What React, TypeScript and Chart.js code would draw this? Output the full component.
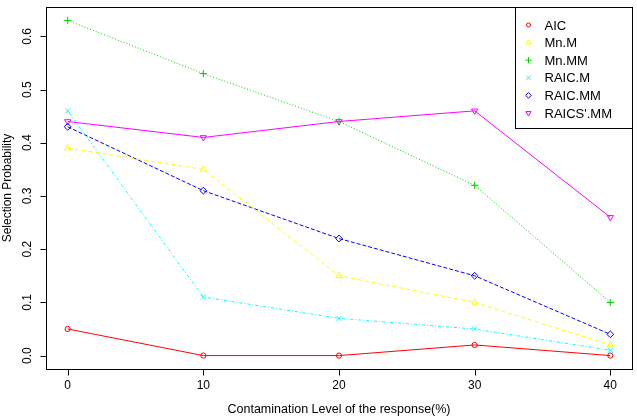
import React, { useEffect, useRef } from "react";
import { Chart, registerables } from "chart.js";
import { drawPoint } from "chart.js/helpers";

Chart.register(...registerables);

const contamination = [0, 10, 20, 30, 40];
const xTicks = [0, 10, 20, 30, 40];
const yTicks = [0, 0.1, 0.2, 0.3, 0.4, 0.5, 0.6];
const yTickLabels = ["0.0", "0.1", "0.2", "0.3", "0.4", "0.5", "0.6"];

const aic = [0.05, 0.0, 0.0, 0.02, 0.0];
const mnM = [0.39, 0.35, 0.15, 0.1, 0.02];
const mnMM = [0.63, 0.53, 0.44, 0.32, 0.1];
const raicM = [0.46, 0.11, 0.07, 0.05, 0.01];
const raicMM = [0.43, 0.31, 0.22, 0.15, 0.04];
const raicsMM = [0.44, 0.41, 0.44, 0.46, 0.26];

const xTitle = "Contamination Level of the response(%)";
const yTitle = "Selection Probability";

const FONT = "Liberation Sans, Arial, Helvetica, sans-serif";

type Series = {
  label: string;
  data: number[];
  color: string;
  dash: number[];
  style: string;
  rotation: number;
  radius: number;
};

const series: Series[] = [
  { label: "AIC", data: aic, color: "#FF0000", dash: [], style: "circle", rotation: 0, radius: 2.6 },
  { label: "Mn.M", data: mnM, color: "#FFFF00", dash: [4, 3], style: "triangle", rotation: 0, radius: 3.6 },
  { label: "Mn.MM", data: mnMM, color: "#00CD00", dash: [1, 2], style: "cross", rotation: 0, radius: 3.6 },
  { label: "RAIC.M", data: raicM, color: "#00FFFF", dash: [1, 2, 3, 2], style: "crossRot", rotation: 0, radius: 3.6 },
  { label: "RAIC.MM", data: raicMM, color: "#0000FF", dash: [4, 2], style: "rectRot", rotation: 0, radius: 3.4 },
  { label: "RAICS'.MM", data: raicsMM, color: "#FF00FF", dash: [], style: "triangle", rotation: 180, radius: 3.6 },
];

const rAxesPlugin = {
  id: "rAxes",
  afterDraw(chart: any) {
    const { ctx, chartArea: a, scales } = chart;
    const xs = scales.x;
    const ys = scales.y;
    const L = Math.round(a.left) + 0.5;
    const T = Math.round(a.top) + 0.5;
    const R = Math.round(a.right) + 0.5;
    const B = Math.round(a.bottom) + 0.5;
    ctx.save();
    ctx.strokeStyle = "#000";
    ctx.lineWidth = 1;
    ctx.setLineDash([]);
    ctx.strokeRect(L, T, R - L, B - T);
    ctx.fillStyle = "#000";
    ctx.font = `12px ${FONT}`;
    // x axis ticks
    ctx.beginPath();
    xTicks.forEach((t) => {
      const px = Math.round(xs.getPixelForValue(t)) + 0.5;
      ctx.moveTo(px, B);
      ctx.lineTo(px, B + 6);
    });
    // y axis ticks
    yTicks.forEach((t) => {
      const py = Math.round(ys.getPixelForValue(t)) + 0.5;
      ctx.moveTo(L, py);
      ctx.lineTo(L - 6, py);
    });
    ctx.stroke();
    ctx.textAlign = "center";
    ctx.textBaseline = "middle";
    xTicks.forEach((t) => {
      ctx.fillText(String(t), xs.getPixelForValue(t), a.bottom + 17);
    });
    ctx.font = `12.5px ${FONT}`;
    ctx.fillText(xTitle, (a.left + a.right) / 2, a.bottom + 41);
    ctx.font = `12px ${FONT}`;
    yTicks.forEach((t, i) => {
      ctx.save();
      ctx.translate(a.left - 18.5, ys.getPixelForValue(t));
      ctx.rotate(-Math.PI / 2);
      ctx.fillText(yTickLabels[i], 0, 0);
      ctx.restore();
    });
    ctx.save();
    ctx.translate(8, (a.top + a.bottom) / 2);
    ctx.rotate(-Math.PI / 2);
    ctx.fillText(yTitle, 0, 0);
    ctx.restore();

    // legend
    const lw = 117;
    const lh = 121;
    const lx = R - lw;
    const ly = T;
    ctx.fillStyle = "#fff";
    ctx.fillRect(lx, ly, lw, lh);
    ctx.strokeStyle = "#000";
    ctx.strokeRect(lx, ly, lw, lh);
    ctx.textAlign = "left";
    ctx.font = `13px ${FONT}`;
    chart.data.datasets.forEach((ds: any, i: number) => {
      const cy = ly + 17.5 + i * 17.6;
      const s = series[i];
      ctx.save();
      ctx.lineWidth = 1;
      ctx.strokeStyle = s.color;
      ctx.fillStyle = "rgba(0,0,0,0)";
      ctx.setLineDash([]);
      drawPoint(ctx, { pointStyle: s.style as any, radius: s.radius - 0.6, rotation: s.rotation, borderWidth: 1 }, lx + 13, cy);
      ctx.restore();
      ctx.fillStyle = "#000";
      ctx.fillText(ds.label, lx + 29, cy + 1);
    });
    ctx.restore();
  },
};

export default function App() {
  const ref = useRef<HTMLCanvasElement | null>(null);
  useEffect(() => {
    document.body.style.margin = "0";
    const canvas = ref.current!;
    const chart = new Chart(canvas, {
      type: "line",
      data: {
        labels: contamination,
        datasets: series.map((s) => ({
          label: s.label,
          data: s.data.map((v, i) => ({ x: contamination[i], y: v })),
          borderColor: s.color,
          backgroundColor: "rgba(0,0,0,0)",
          borderWidth: 1,
          borderDash: s.dash,
          pointStyle: s.style as any,
          pointRotation: s.rotation,
          pointRadius: s.radius,
          pointBorderWidth: 1,
          pointBorderColor: s.color,
          pointBackgroundColor: "rgba(0,0,0,0)",
          tension: 0,
          fill: false,
        })),
      },
      options: {
        responsive: false,
        animation: false,
        layout: { padding: { left: 46, right: 4, top: 7, bottom: 49 } },
        plugins: { legend: { display: false }, tooltip: { enabled: false } },
        scales: {
          x: { type: "linear", min: -1.6, max: 41.6, display: false },
          y: { type: "linear", min: -0.0252, max: 0.6552, display: false },
        },
      },
      plugins: [rAxesPlugin],
    });
    return () => chart.destroy();
  }, []);
  return <canvas ref={ref} width={637} height={418} style={{ display: "block" }} />;
}
